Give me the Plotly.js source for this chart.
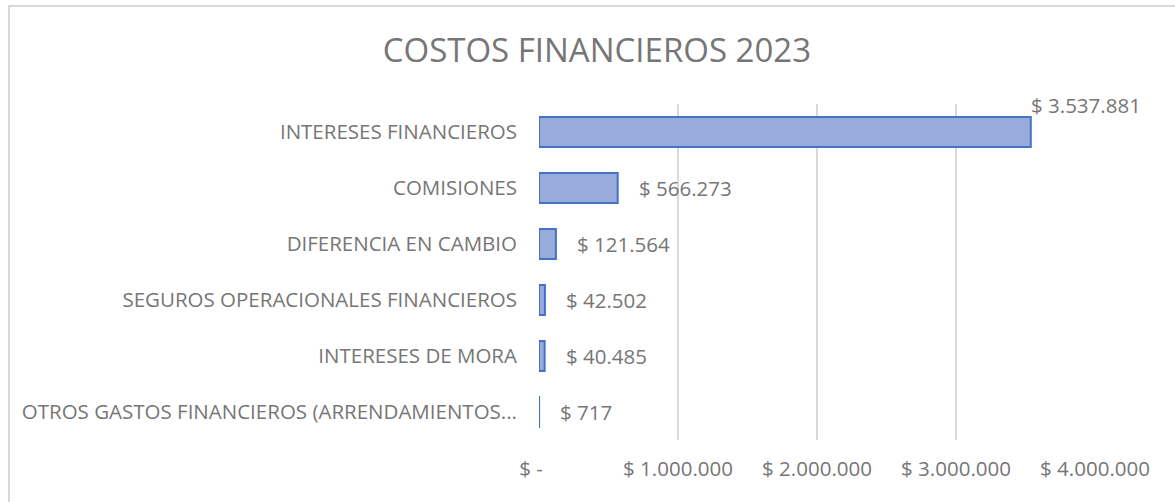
<!DOCTYPE html>
<html>
<head>
<meta charset="utf-8">
<script src="https://cdn.plot.ly/plotly-3.0.1.min.js"></script>
<style>
  html, body { margin: 0; padding: 0; width: 1175px; height: 502px; overflow: hidden; background: #fff; }
  #chart { position: absolute; left: 0; top: 0; width: 1175px; height: 502px; }
  #frame { position: absolute; left: 8px; top: 5px; width: 1300px; height: 600px;
           border-left: 2px solid #d9d9d9; border-top: 2px solid #d9d9d9; pointer-events: none; }
</style>
</head>
<body>
<div id="chart"></div>
<div id="frame"></div>
<script>
const categories = [
  "INTERESES FINANCIEROS",
  "COMISIONES",
  "DIFERENCIA EN CAMBIO",
  "SEGUROS OPERACIONALES FINANCIEROS",
  "INTERESES DE MORA",
  "OTROS GASTOS FINANCIEROS (ARRENDAMIENTOS..."
];
const values = [3537881, 566273, 121564, 42502, 40485, 717];
const tickValues = [0, 1000000, 2000000, 3000000, 4000000];
const tickLabels = ["$ -\u00a0\u00a0\u00a0", "$ 1.000.000", "$ 2.000.000", "$ 3.000.000", "$ 4.000.000"];

function fmt(v) {
  return "$ " + String(v).replace(/\B(?=(\d{3})+(?!\d))/g, ".");
}

const grey = "#767676";
const font = "Open Sans, Noto Sans, sans-serif";
const fs = 20.5;

const annotations = categories.map((c, i) => ({
  x: values[i], y: c, xref: "x", yref: "y",
  text: fmt(values[i]), showarrow: false,
  xanchor: "left", yanchor: "middle",
  xshift: i === 0 ? -2 : 19, yshift: i === 0 ? 27 : 0,
  font: { family: font, size: fs, color: grey }
}));

const trace = {
  type: "bar", orientation: "h",
  x: values, y: categories,
  marker: { color: "#99abdb", line: { color: "#4472c4", width: 2 } },
  hoverinfo: "none"
};

const layout = {
  width: 1175, height: 502,
  margin: { l: 539, r: 80, t: 104, b: 62 },
  paper_bgcolor: "#ffffff", plot_bgcolor: "#ffffff",
  showlegend: false,
  bargap: 0.46,
  title: { text: "COSTOS FINANCIEROS 2023", x: 0.508, xanchor: "center", y: 0.9, yanchor: "middle",
           font: { family: font, size: 33, color: grey } },
  xaxis: {
    range: [0, 4000000], tickvals: tickValues, ticktext: tickLabels,
    showgrid: true, gridcolor: "#d9d9d9", gridwidth: 1.5, zeroline: false,
    showline: false, ticks: "", ticklabelstandoff: 14,
    tickfont: { family: font, size: fs, color: grey }, fixedrange: true
  },
  yaxis: {
    type: "category", autorange: "reversed", showgrid: false, zeroline: false,
    showline: false, ticks: "", ticklabelstandoff: 21,
    tickfont: { family: font, size: fs, color: grey }, fixedrange: true
  },
  annotations: annotations
};

Plotly.newPlot("chart", [trace], layout, { staticPlot: true, displayModeBar: false });
</script>
</body>
</html>
